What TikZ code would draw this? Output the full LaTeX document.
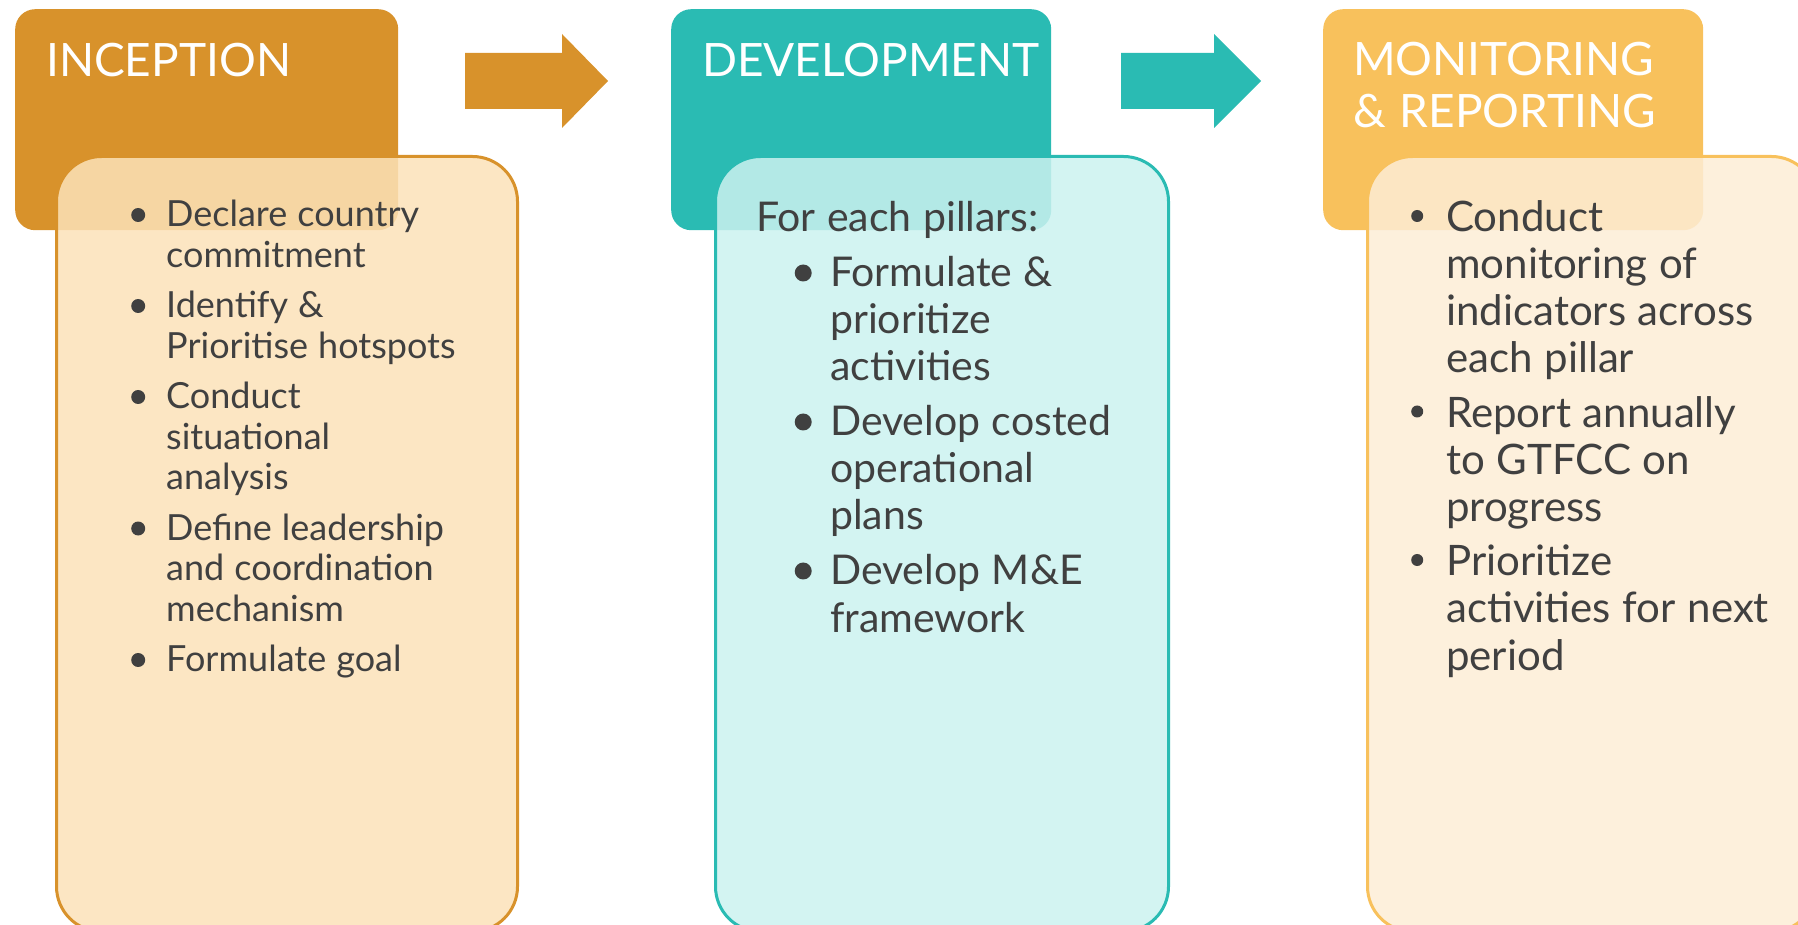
\documentclass[tikz,border=0pt]{standalone}
\usepackage{fontspec}
\setmainfont{Lato}

\definecolor{incdark}{HTML}{D8922B}
\definecolor{inclight}{RGB}{252,226,185}
\definecolor{devdark}{HTML}{2ABBB3}
\definecolor{devlight}{RGB}{203,242,240}
\definecolor{mondark}{HTML}{F8C15C}
\definecolor{monlight}{RGB}{253,237,214}
\definecolor{textgray}{HTML}{404040}

% bullet lists with hanging indent
\newlength{\bulind}
\newcommand{\bulset}[4]{\setlength{\bulind}{#1}\def\bulsp{#2}\def\bulr{#3}\def\bulup{#4}}
\newcommand{\bul}[1]{\hangindent=\bulind\noindent\makebox[\bulind][l]{\hspace*{\bulsp}\tikz[baseline=-\bulup]\fill[textgray] (0,0) circle (\bulr);}#1\par}
\newcommand{\headfont}{\fontsize{46}{52}\selectfont\spaceskip=0.3em\relax}
\newcommand{\incfont}{\fontsize{36}{40.5}\selectfont\spaceskip=0.28em\relax\setlength{\parskip}{10pt}}
\newcommand{\devfont}{\fontsize{41}{47}\selectfont\spaceskip=0.28em\relax\setlength{\parskip}{8pt}}
\newcommand{\monfont}{\fontsize{42}{47}\selectfont\spaceskip=0.28em\relax\setlength{\parskip}{7.5pt}}

\tikzset{
  head/.style={rounded corners=20, inner sep=0, minimum width=380, minimum height=221, anchor=north west},
  body/.style={rounded corners=45, line width=3, fill opacity=0.85, inner sep=0, minimum height=775, anchor=north west},
  headtext/.style={text=white, inner sep=0, anchor=base west},
  bodytext/.style={text=textgray, text width=440, align=left, inner sep=0, anchor=base west}
}

\begin{document}
\begin{tikzpicture}[x=1pt, y=-1pt]
\clip (0,0) rectangle (1798,925);

% title boxes
\node[head, fill=incdark, minimum width=383] (inchead) at (15,9) {};
\node[head, fill=devdark] (devhead) at (671,9) {};
\node[head, fill=mondark] (monhead) at (1323,9) {};

% content boxes
\node[body, draw=incdark, fill=inclight, minimum width=461] (incbody) at (55,155) {};
\node[body, draw=devdark, fill=devlight, minimum width=453] (devbody) at (714,155) {};
\node[body, draw=mondark, fill=monlight, minimum width=449] (monbody) at (1366,155) {};

% titles
\node[headtext] (inctitle) at (46,77) {\headfont INCEPTION};
\node[headtext] (devtitle) at (702,77) {\headfont DEVELOPMENT};
\node[headtext] (montitle) at (1353,76) {\headfont MONITORING};
\node[headtext] (montitle2) at (1353,128) {\headfont\& REPORTING};

% block arrows
\fill[incdark] (465,53) -- (562,53) -- (562,34) -- (608,81) -- (562,128) -- (562,109) -- (465,109) -- cycle;
\fill[devdark] (1121,53) -- (1214,53) -- (1214,34) -- (1261,81) -- (1214,128) -- (1214,109) -- (1121,109) -- cycle;

% lists
\node[bodytext] (inclist) at (124,227) {\incfont\bulset{42pt}{7pt}{7pt}{12pt}%
\bul{Declare country\newline commitment}
\bul{Identify \&\newline Prioritise hotspots}
\bul{Conduct\newline situational\newline analysis}
\bul{Define leadership\newline and coordination\newline mechanism}
\bul{Formulate goal}};

\node[bodytext] (devlist) at (756,232) {\devfont\bulset{42pt}{6.5pt}{8.5pt}{14pt}%
For each pillars:\par
\leftskip=32pt
\bul{Formulate \&\newline prioritize\newline activities}
\bul{Develop costed\newline operational\newline plans}
\bul{Develop M\&E\newline framework}};

\node[bodytext] (monlist) at (1404,232) {\monfont\bulset{42pt}{7pt}{6pt}{16pt}%
\bul{Conduct\newline monitoring of\newline indicators across\newline each pillar}
\bul{Report annually\newline to GTFCC on\newline progress}
\bul{Prioritize\newline activities for next\newline period}};
\end{tikzpicture}
\end{document}
